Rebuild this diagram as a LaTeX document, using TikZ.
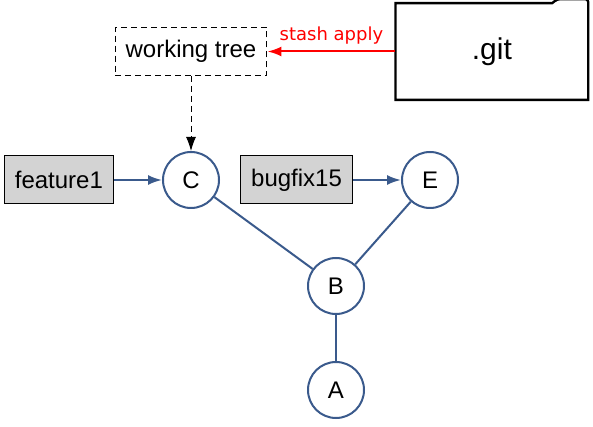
\documentclass[tikz,border=0pt]{standalone}
\usepackage{fontspec}
\setmainfont{Liberation Sans}
\newfontfamily\dejavu{DejaVu Sans}
\usetikzlibrary{arrows.meta}
\usetikzlibrary{positioning}
\definecolor{commitblue}{HTML}{3A5A8C}
\definecolor{branchgray}{HTML}{D3D3D3}

\begin{document}
\begin{tikzpicture}[%
        every node/.style={font=\fontsize{12}{14}\selectfont, inner sep=0pt},
        commit/.style={circle, draw=commitblue, line width=1pt, minimum size=28pt},
        branch/.style={rectangle, draw, fill=branchgray, line width=0.5pt, minimum height=24pt, inner xsep=5.3pt},
        node distance=24pt, >={Latex[length=7pt,width=5pt]}
      ]
      \useasboundingbox (-95.5pt,-123.5pt) rectangle (201pt,90pt);
      \node [] (0) [commit] {C};
      \node [] (1) [commit, on grid, below right=53pt and 72.5pt of 0] {B};
      \node [] (2) [commit, on grid, above right=53pt and 47pt of 1] {E};
      \node [] (3) [commit, on grid, below=52pt of 1] {A};
      \node [] (4) [branch, left=of 0] {feature1};
      \node [] (5) [branch, left=of 2] {bugfix15};
      \node [] (6) [rectangle, draw, dashed, dash pattern=on 3pt off 2pt, line width=0.5pt,
                    minimum height=24pt, inner xsep=5.3pt, above=37.5pt of 0] {working tree};
      \node [] (7) [rectangle, minimum width=96pt, minimum height=48pt, right=64pt of 6,
                    font=\fontsize{15}{17}\selectfont] {.git};
      % folder outline around .git
      \draw [line width=1.2pt] (7.south west) -- (7.north west) -- ([xshift=-18pt]7.north east)
        [rounded corners=1.5pt] -- ([xshift=-15.5pt,yshift=2pt]7.north east)
        -- ([yshift=2pt]7.north east) -- ([yshift=-3pt]7.north east)
        [sharp corners] -- (7.south east) -- cycle;
      \path [draw, commitblue, line width=1pt] (4) edge[->] node {} (0)
      (5) edge[->] node {} (2)
      (0) edge node {} (1)
      (1) edge node {} (2)
      (1) edge node {} (3);
      \path [draw, line width=0.5pt] (6) edge[->, dashed, dash pattern=on 3pt off 2pt] node {} (0);
      \path [draw, red, line width=1pt] (7) edge[->] node [above=3pt, font=\dejavu\fontsize{9}{10}\selectfont] {stash apply} (6);
     \end{tikzpicture}
\end{document}
